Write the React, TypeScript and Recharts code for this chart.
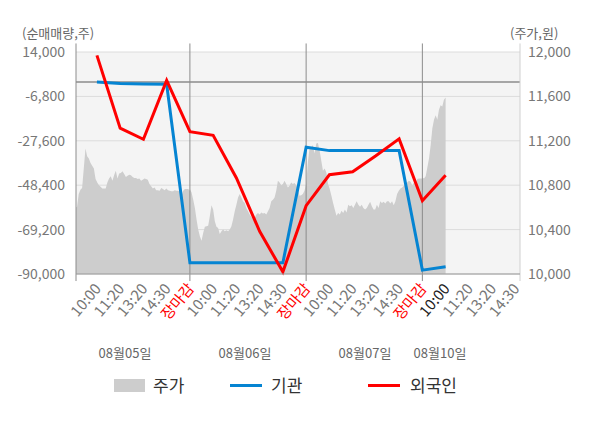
import React from "react";
import {
  ComposedChart,
  Area,
  Line,
  XAxis,
  YAxis,
  CartesianGrid,
  ReferenceLine,
} from "recharts";

const FONT = "'Noto Sans CJK KR', 'Noto Sans', sans-serif";

// 주가 (원) - intraday samples per trading day
const priceAug05 = [
  10670, 10600, 10605, 10720, 10760, 10775, 10950, 11130, 11060, 11040,
  11000, 10975, 10950, 10855, 10825, 10800, 10785, 10770, 10770, 10770,
  10825, 10860, 10880, 10840, 10890, 10930, 10860, 10905, 10910, 10925,
  10900, 10875, 10885, 10895, 10890, 10875, 10865, 10865, 10855, 10860,
  10840, 10850, 10860, 10855, 10850, 10810, 10790, 10770, 10780, 10755,
  10755, 10750, 10775, 10765, 10755, 10770, 10755, 10750, 10745, 10745,
  10755, 10750, 10750, 10740, 10705, 10750, 10765, 10765, 10765, 10750,
];
const priceAug06 = [
  10765, 10735, 10670, 10595, 10490, 10400, 10340, 10300, 10370, 10425,
  10430, 10435, 10520, 10620, 10580, 10475, 10425, 10415, 10360, 10385,
  10400, 10385, 10395, 10385, 10400, 10430, 10490, 10565, 10625, 10690,
  10720, 10690, 10655, 10640, 10595, 10565, 10535, 10515, 10495, 10505,
  10535, 10550, 10535, 10555, 10545, 10550, 10535, 10565, 10595, 10655,
  10670, 10690, 10750, 10840, 10825, 10800, 10810, 10840, 10810, 10780,
  10795, 10825, 10810, 10820, 10800, 10765, 10705, 10710, 10720, 10750,
  10810,
];
const priceAug07 = [
  10800, 11005, 11130, 11145, 11160, 11085, 11175, 11180, 11110, 11020,
  10930, 10950, 10915, 10810, 10765, 10705, 10640, 10580, 10525, 10550,
  10535, 10570, 10550, 10580, 10555, 10625, 10610, 10620, 10595, 10625,
  10655, 10625, 10605, 10625, 10595, 10580, 10595, 10625, 10650, 10610,
  10580, 10580, 10625, 10595, 10655, 10640, 10650, 10635, 10655, 10655,
  10635, 10655, 10620, 10655, 10720, 10750, 10770, 10780, 10795, 10810,
  10825, 10840, 10830, 10800, 10825, 10810, 10855, 10860, 10860, 10860,
];
const priceAug10 = [
  10870, 10860, 10880, 10960, 11040, 11160, 11310, 11390, 11430, 11390,
  11480, 11520, 11510, 11570, 11590,
];

// 순매매량 (주) at each time slot
const slots = [1, 2, 3, 4, 5, 6, 7, 8, 9, 10, 11, 12, 13, 14, 15, 16];
const institution = [
  0, -800, -1000, -1100, -84700, -84700, -84700, -84700, -84700,
  -30600, -32200, -32200, -32200, -32200, -88200, -86600,
];
const foreign = [
  12400, -21700, -26900, 700, -23300, -25000, -45000, -70000, -89000,
  -58000, -43500, -42100, -34600, -26700, -55700, -43700,
];

const timeLabels = ["10:00", "11:20", "13:20", "14:30", "장마감"];
const dayLabels = ["08월05일", "08월06일", "08월07일", "08월10일"];
const xTicks = [1, 2, 3, 4, 5, 6, 7, 8, 9, 10, 11, 12, 13, 14, 15, 16, 17, 18, 19];
const leftTicks = [-90000, -69200, -48400, -27600, -6800, 14000];
const rightTicks = [10000, 10400, 10800, 11200, 11600, 12000];
const latestSlot = 16;

type Row = { x: number; price?: number; inst?: number; foreign?: number };

const priceDays = [priceAug05, priceAug06, priceAug07, priceAug10];
const daySpan = [5, 5, 5, 1];

const rows: Row[] = [];
priceDays.forEach((vals, d) => {
  vals.forEach((p, i) => {
    rows.push({ x: d * 5 + (i * daySpan[d]) / (vals.length - 1), price: p });
  });
});
slots.forEach((s, i) => {
  rows.push({ x: s, inst: institution[i], foreign: foreign[i] });
});
rows.sort((a, b) => a.x - b.x);

const fmt = (v: number) => v.toLocaleString("en-US");

function TimeTick({ x, y, payload }: any) {
  const v = payload.value;
  const slot = (v - 1) % 5;
  const isClose = slot === 4;
  const fill = isClose ? "#ff0000" : v === latestSlot ? "#222222" : "#777777";
  const ax = x + 5;
  const ay = y + 13;
  return (
    <text
      x={ax}
      y={ay}
      textAnchor="end"
      transform={`rotate(-50 ${ax} ${ay})`}
      fontSize={15}
      fontFamily={FONT}
      fill={fill}
    >
      {timeLabels[slot]}
    </text>
  );
}

const dayLabelCenters = [125, 245, 365, 440];

export default function App() {
  return (
    <div style={{ position: "relative", width: 600, height: 428, fontFamily: FONT, background: "#fff" }}>
      <style>{"body{margin:0}"}</style>
      <span style={{ position: "absolute", left: 22, top: 23, fontSize: 13, lineHeight: "20px", color: "#666" }}>
        (순매매량,주)
      </span>
      <span style={{ position: "absolute", left: 510, top: 23, fontSize: 13, lineHeight: "20px", color: "#666" }}>
        (주가,원)
      </span>

      <ComposedChart
        width={600}
        height={428}
        data={rows}
        margin={{ top: 52, right: 6, bottom: 74, left: 6 }}
      >
        <CartesianGrid
          yAxisId="left"
          vertical={false}
          fill="#f4f4f4"
          stroke="#dcdcdc"
          horizontalValues={leftTicks}
        />
        <XAxis
          dataKey="x"
          type="number"
          domain={[0.1, 19.2]}
          allowDataOverflow
          ticks={xTicks}
          interval={0}
          tick={<TimeTick />}
          tickLine={false}
          tickSize={0}
          axisLine={{ stroke: "#999999" }}
          height={80}
        />
        <YAxis
          yAxisId="left"
          domain={[-90000, 14000]}
          ticks={leftTicks}
          tickFormatter={fmt}
          axisLine={false}
          tickLine={false}
          tickSize={0}
          tickMargin={11}
          width={70}
          tick={{ fontSize: 14, fill: "#777777", fontFamily: FONT }}
        />
        <YAxis
          yAxisId="right"
          orientation="right"
          domain={[10000, 12000]}
          ticks={rightTicks}
          tickFormatter={fmt}
          axisLine={false}
          tickLine={false}
          tickSize={0}
          tickMargin={8}
          width={74}
          tick={{ fontSize: 14, fill: "#777777", fontFamily: FONT, textAnchor: "start" }}
        />
        <Area
          yAxisId="right"
          dataKey="price"
          type="linear"
          fill="#cdcdcd"
          fillOpacity={1}
          stroke="none"
          connectNulls
          isAnimationActive={false}
        />
        <ReferenceLine yAxisId="left" y={0} stroke="#8c8c8c" strokeWidth={1.5} />
        {[0.1, 5, 10, 15].map((d) => (
          <ReferenceLine
            key={d}
            yAxisId="left"
            segment={[
              { x: d, y: 18000 },
              { x: d, y: -93300 },
            ]}
            stroke="#8c8c8c"
            ifOverflow="visible"
          />
        ))}
        <ReferenceLine
          yAxisId="left"
          segment={[
            { x: 19.2, y: 18000 },
            { x: 19.2, y: -93300 },
          ]}
          stroke="#d0d0d0"
          ifOverflow="visible"
        />
        <Line
          yAxisId="left"
          dataKey="inst"
          type="linear"
          stroke="#0584d2"
          strokeWidth={3}
          dot={false}
          connectNulls
          isAnimationActive={false}
        />
        <Line
          yAxisId="left"
          dataKey="foreign"
          type="linear"
          stroke="#ff0000"
          strokeWidth={3}
          dot={false}
          connectNulls
          isAnimationActive={false}
        />
      </ComposedChart>

      {dayLabels.map((d, i) => (
        <span
          key={d}
          style={{
            position: "absolute",
            left: dayLabelCenters[i] - 40,
            width: 80,
            top: 343,
            textAlign: "center",
            fontSize: 13,
            lineHeight: "20px",
            color: "#666",
          }}
        >
          {d}
        </span>
      ))}

      <div style={{ position: "absolute", left: 114, top: 379, width: 31, height: 13, background: "#cdcdcd" }} />
      <span style={{ position: "absolute", left: 153, top: 373, fontSize: 17, lineHeight: "24px", color: "#333" }}>주가</span>
      <div style={{ position: "absolute", left: 230, top: 384, width: 32, height: 3, background: "#0584d2" }} />
      <span style={{ position: "absolute", left: 271, top: 373, fontSize: 17, lineHeight: "24px", color: "#333" }}>기관</span>
      <div style={{ position: "absolute", left: 368, top: 384, width: 32, height: 3, background: "#ff0000" }} />
      <span style={{ position: "absolute", left: 410, top: 373, fontSize: 17, lineHeight: "24px", color: "#333" }}>외국인</span>
    </div>
  );
}
